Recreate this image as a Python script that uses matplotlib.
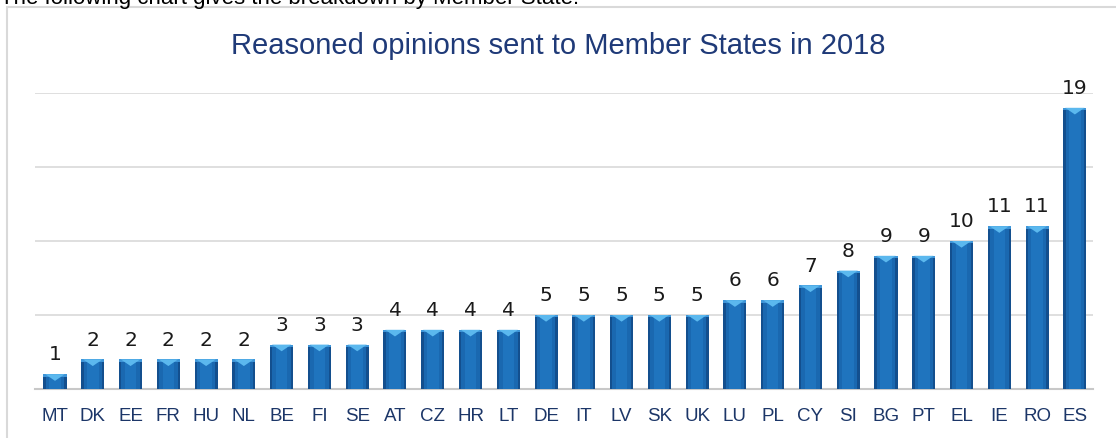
import matplotlib
matplotlib.use("Agg")
import matplotlib.pyplot as plt
from matplotlib.patches import Polygon, Rectangle

countries = ["MT", "DK", "EE", "FR", "HU", "NL", "BE", "FI", "SE", "AT", "CZ", "HR", "LT",
             "DE", "IT", "LV", "SK", "UK", "LU", "PL", "CY", "SI", "BG", "PT", "EL", "IE", "RO", "ES"]
opinions = [1, 2, 2, 2, 2, 2, 3, 3, 3, 4, 4, 4, 4, 5, 5, 5, 5, 5, 6, 6, 7, 8, 9, 9, 10, 11, 11, 19]
title = "Reasoned opinions sent to Member States in 2018"
intro = "The following chart gives the breakdown by Member State:"

W, H = 1116, 439
fig = plt.figure(figsize=(W / 100, H / 100), dpi=100)
fig.patch.set_facecolor("white")

# intro text, cut at top as in the source
fig.text(0.0, 1 - 4 / H, intro, fontsize=16, family="Liberation Sans", color="black",
         ha="left", va="baseline")
# chart border
fig.patches.append(Rectangle((7 / W, -0.1), 1.2, 1 - 8 / H + 0.1, transform=fig.transFigure,
                             fill=False, edgecolor="#D9D9D9", linewidth=1.5))

ax = fig.add_axes([35 / W, 1 - 390 / H, (1093 - 35) / W, (390 - 94) / H])
x = list(range(len(countries)))
w = 0.61
ax.bar(x, opinions, width=w, color="#134F8E", zorder=3)
ax.bar(x, opinions, width=w * 0.8, color="#1A68B0", zorder=3)
ax.bar(x, opinions, width=w * 0.5, color="#1F74BE", zorder=3)

# top bevel
d = 0.45
for xi, v in zip(x, opinions):
    band = Polygon([(xi - w / 2, v), (xi + w / 2, v), (xi + w / 2, v - d * 0.35), (xi - w / 2, v - d * 0.35)],
                   closed=True, facecolor="#3E95D8", edgecolor="none", zorder=4)
    tri = Polygon([(xi - w * 0.42, v), (xi + w * 0.42, v), (xi, v - d)],
                  closed=True, facecolor="#5BB8EE", edgecolor="none", zorder=5)
    ax.add_patch(band)
    ax.add_patch(tri)
    ax.text(xi, v + 1.0, str(v), ha="center", va="baseline", fontsize=14.5,
            family="DejaVu Sans", color="#1a1a1a", zorder=6, clip_on=False)

ax.set_xlim(-0.53, len(countries) - 1 + 0.48)
ax.set_ylim(0, 20)
ax.set_yticks([5, 10, 15, 20])
ax.yaxis.grid(True, color="#D9D9D9", linewidth=1.2, zorder=0)
ax.tick_params(axis="y", left=False, labelleft=False)
ax.set_xticks(x)
ax.set_xticklabels(countries, fontsize=13.5, family="Liberation Sans", color="#1C3668")
ax.tick_params(axis="x", length=0, pad=13)
for s in ["top", "right", "left"]:
    ax.spines[s].set_visible(False)
ax.spines["bottom"].set_color("#C8C8C8")
ax.spines["bottom"].set_linewidth(1.5)
ax.set_facecolor("none")

fig.text(0.5, 1 - 54 / H, title, ha="center", va="baseline", fontsize=21,
         family="Liberation Sans", color="#1F3A78")

fig.savefig("out.png", dpi=100)
